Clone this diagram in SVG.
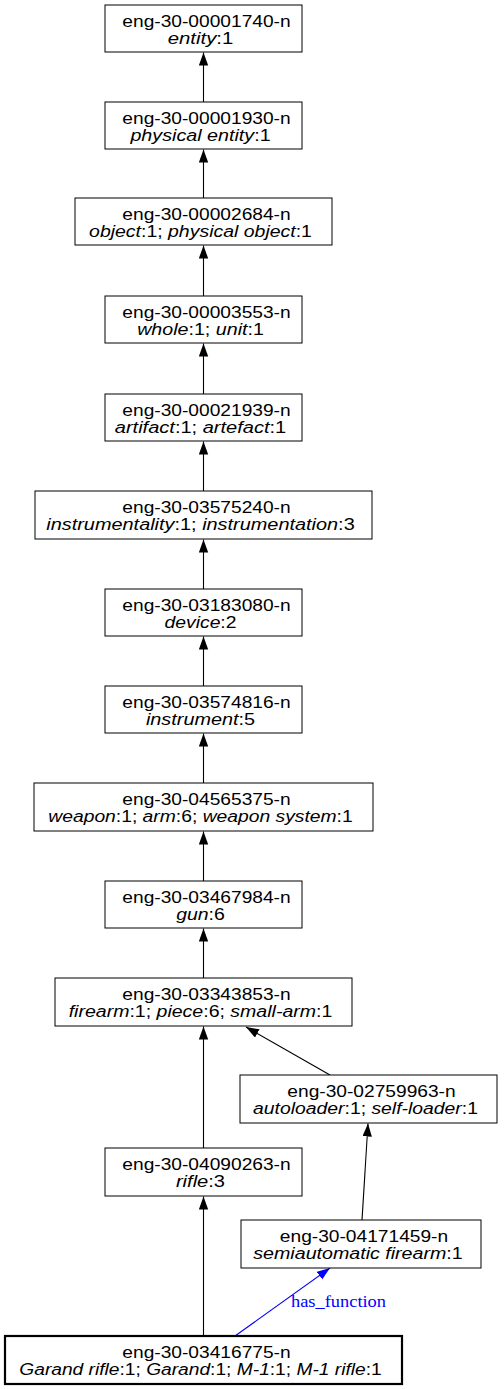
<svg xmlns="http://www.w3.org/2000/svg" width="504" height="1389" viewBox="0 0 504 1389">
<style>
.box{fill:#fff;stroke:#000;stroke-width:1}
.bold{stroke-width:2.2}
.t{font-family:"Liberation Sans",Arial,sans-serif;font-size:16px;fill:#000;text-anchor:middle}
.i{font-style:italic}
.e{stroke:#000;stroke-width:1.1;fill:none}
.eb{stroke:#0000ff;stroke-width:1.1;fill:none}
.lbl{font-family:"Liberation Serif","Times New Roman",serif;font-size:16px;fill:#0000ff}
</style>
<defs>
<marker id="ah" markerUnits="userSpaceOnUse" markerWidth="14" markerHeight="10" refX="13" refY="4.7" orient="auto"><path d="M0,0 L13,4.7 L0,9.4 z" fill="#000"/></marker>
<marker id="ahb" markerUnits="userSpaceOnUse" markerWidth="14" markerHeight="10" refX="13" refY="4.7" orient="auto"><path d="M0,0 L13,4.7 L0,9.4 z" fill="#0000ff"/></marker>
</defs>
<rect width="504" height="1389" fill="#fff"/>
<g id="edges">
<line class="e" x1="203.5" y1="102" x2="203.5" y2="52.5" marker-end="url(#ah)"/>
<line class="e" x1="203.5" y1="198" x2="203.5" y2="149.5" marker-end="url(#ah)"/>
<line class="e" x1="203.5" y1="296" x2="203.5" y2="245.5" marker-end="url(#ah)"/>
<line class="e" x1="203.5" y1="394" x2="203.5" y2="343.5" marker-end="url(#ah)"/>
<line class="e" x1="203.5" y1="491" x2="203.5" y2="441.5" marker-end="url(#ah)"/>
<line class="e" x1="203.5" y1="589" x2="203.5" y2="539.5" marker-end="url(#ah)"/>
<line class="e" x1="203.5" y1="686" x2="203.5" y2="636.5" marker-end="url(#ah)"/>
<line class="e" x1="203.5" y1="783" x2="203.5" y2="733.5" marker-end="url(#ah)"/>
<line class="e" x1="203.5" y1="881" x2="203.5" y2="831.5" marker-end="url(#ah)"/>
<line class="e" x1="203.5" y1="978" x2="203.5" y2="928.5" marker-end="url(#ah)"/>
<line class="e" x1="203.5" y1="1148" x2="203.5" y2="1026.5" marker-end="url(#ah)"/>
<line class="e" x1="330" y1="1075" x2="246" y2="1027" marker-end="url(#ah)"/>
<line class="e" x1="362" y1="1220" x2="368" y2="1123.5" marker-end="url(#ah)"/>
<line class="e" x1="203.5" y1="1336" x2="203.5" y2="1196.5" marker-end="url(#ah)"/>
<line class="eb" x1="235" y1="1336" x2="330" y2="1268" marker-end="url(#ahb)"/>
<text class="lbl" x="291" y="1306.5" textLength="95" lengthAdjust="spacingAndGlyphs">has_function</text>
</g>
<g id="n1"><rect class="box" x="105" y="5" width="197" height="47"/>
<text class="t" x="206.5" y="26.5" textLength="168.3" lengthAdjust="spacingAndGlyphs">eng-30-00001740-n</text>
<text class="t" x="200.5" y="43.5" textLength="65.5" lengthAdjust="spacingAndGlyphs"><tspan class="i">entity</tspan>:1</text></g>
<g id="n2"><rect class="box" x="105" y="102" width="197" height="47"/>
<text class="t" x="206.5" y="123.5" textLength="168.3" lengthAdjust="spacingAndGlyphs">eng-30-00001930-n</text>
<text class="t" x="200.5" y="140.5" textLength="140.2" lengthAdjust="spacingAndGlyphs"><tspan class="i">physical entity</tspan>:1</text></g>
<g id="n3"><rect class="box" x="75" y="198" width="257" height="47"/>
<text class="t" x="206.5" y="219.5" textLength="168.3" lengthAdjust="spacingAndGlyphs">eng-30-00002684-n</text>
<text class="t" x="200.5" y="236.5" textLength="222.8" lengthAdjust="spacingAndGlyphs"><tspan class="i">object</tspan>:1; <tspan class="i">physical object</tspan>:1</text></g>
<g id="n4"><rect class="box" x="105" y="296" width="197" height="47"/>
<text class="t" x="206.5" y="317.5" textLength="168.3" lengthAdjust="spacingAndGlyphs">eng-30-00003553-n</text>
<text class="t" x="200.5" y="334.5" textLength="126.7" lengthAdjust="spacingAndGlyphs"><tspan class="i">whole</tspan>:1; <tspan class="i">unit</tspan>:1</text></g>
<g id="n5"><rect class="box" x="105" y="394" width="197" height="47"/>
<text class="t" x="206.5" y="415.5" textLength="168.3" lengthAdjust="spacingAndGlyphs">eng-30-00021939-n</text>
<text class="t" x="200.5" y="432.5" textLength="171.4" lengthAdjust="spacingAndGlyphs"><tspan class="i">artifact</tspan>:1; <tspan class="i">artefact</tspan>:1</text></g>
<g id="n6"><rect class="box" x="35" y="491" width="337" height="48"/>
<text class="t" x="206.5" y="513" textLength="168.3" lengthAdjust="spacingAndGlyphs">eng-30-03575240-n</text>
<text class="t" x="200.5" y="530" textLength="308.4" lengthAdjust="spacingAndGlyphs"><tspan class="i">instrumentality</tspan>:1; <tspan class="i">instrumentation</tspan>:3</text></g>
<g id="n7"><rect class="box" x="105" y="589" width="197" height="47"/>
<text class="t" x="206.5" y="610.5" textLength="168.3" lengthAdjust="spacingAndGlyphs">eng-30-03183080-n</text>
<text class="t" x="200.5" y="627.5" textLength="72" lengthAdjust="spacingAndGlyphs"><tspan class="i">device</tspan>:2</text></g>
<g id="n8"><rect class="box" x="105" y="686" width="197" height="47"/>
<text class="t" x="206.5" y="707.5" textLength="168.3" lengthAdjust="spacingAndGlyphs">eng-30-03574816-n</text>
<text class="t" x="200.5" y="724.5" textLength="109.1" lengthAdjust="spacingAndGlyphs"><tspan class="i">instrument</tspan>:5</text></g>
<g id="n9"><rect class="box" x="34" y="783" width="339" height="48"/>
<text class="t" x="206.5" y="805" textLength="168.3" lengthAdjust="spacingAndGlyphs">eng-30-04565375-n</text>
<text class="t" x="200.5" y="822" textLength="304.4" lengthAdjust="spacingAndGlyphs"><tspan class="i">weapon</tspan>:1; <tspan class="i">arm</tspan>:6; <tspan class="i">weapon system</tspan>:1</text></g>
<g id="n10"><rect class="box" x="105" y="881" width="197" height="47"/>
<text class="t" x="206.5" y="902.5" textLength="168.3" lengthAdjust="spacingAndGlyphs">eng-30-03467984-n</text>
<text class="t" x="200.5" y="919.5" textLength="48.6" lengthAdjust="spacingAndGlyphs"><tspan class="i">gun</tspan>:6</text></g>
<g id="n11"><rect class="box" x="55" y="978" width="297" height="48"/>
<text class="t" x="206.5" y="1000" textLength="168.3" lengthAdjust="spacingAndGlyphs">eng-30-03343853-n</text>
<text class="t" x="200.5" y="1017" textLength="263.6" lengthAdjust="spacingAndGlyphs"><tspan class="i">firearm</tspan>:1; <tspan class="i">piece</tspan>:6; <tspan class="i">small-arm</tspan>:1</text></g>
<g id="n12"><rect class="box" x="240" y="1075" width="257" height="48"/>
<text class="t" x="371.5" y="1097" textLength="168.3" lengthAdjust="spacingAndGlyphs">eng-30-02759963-n</text>
<text class="t" x="365.5" y="1114" textLength="224.9" lengthAdjust="spacingAndGlyphs"><tspan class="i">autoloader</tspan>:1; <tspan class="i">self-loader</tspan>:1</text></g>
<g id="n13"><rect class="box" x="105" y="1148" width="197" height="48"/>
<text class="t" x="206.5" y="1170" textLength="168.3" lengthAdjust="spacingAndGlyphs">eng-30-04090263-n</text>
<text class="t" x="200.5" y="1187" textLength="49.1" lengthAdjust="spacingAndGlyphs"><tspan class="i">rifle</tspan>:3</text></g>
<g id="n14"><rect class="box" x="241" y="1220" width="240" height="48"/>
<text class="t" x="364" y="1242" textLength="168.3" lengthAdjust="spacingAndGlyphs">eng-30-04171459-n</text>
<text class="t" x="358" y="1259" textLength="209.4" lengthAdjust="spacingAndGlyphs"><tspan class="i">semiautomatic firearm</tspan>:1</text></g>
<g id="n15"><rect class="box bold" x="5" y="1336" width="397" height="48"/>
<text class="t" x="206.5" y="1358" textLength="168.3" lengthAdjust="spacingAndGlyphs">eng-30-03416775-n</text>
<text class="t" x="200.5" y="1375" textLength="362.4" lengthAdjust="spacingAndGlyphs"><tspan class="i">Garand rifle</tspan>:1; <tspan class="i">Garand</tspan>:1; <tspan class="i">M-1</tspan>:1; <tspan class="i">M-1 rifle</tspan>:1</text></g>
</svg>
